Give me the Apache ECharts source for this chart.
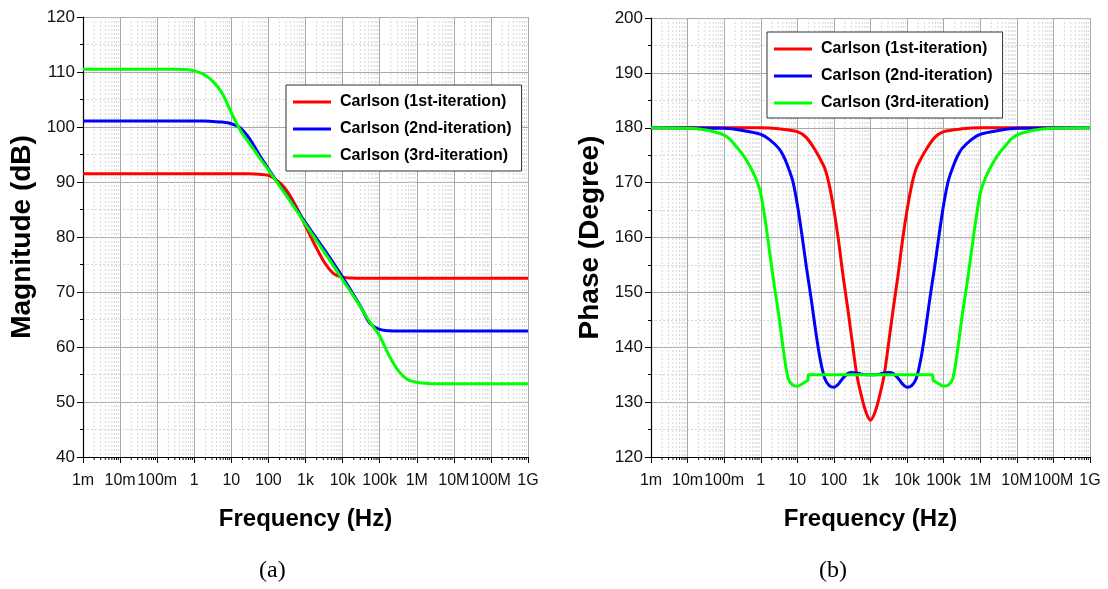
<!DOCTYPE html>
<html>
<head>
<meta charset="utf-8">
<script src="https://cdn.jsdelivr.net/npm/echarts@6/dist/echarts.min.js"></script>
<style>
  html, body { margin: 0; padding: 0; background: #fff; }
  #chart { width: 1108px; height: 589px; }
</style>
</head>
<body>
<div id="chart"></div>
<script>
// Decade tick labels of the frequency axis (1 mHz .. 1 GHz)
const freqTickLabels = ['1m', '10m', '100m', '1', '10', '100', '1k', '10k', '100k', '1M', '10M', '100M', '1G'];
const seriesNames = ['Carlson (1st-iteration)', 'Carlson (2nd-iteration)', 'Carlson (3rd-iteration)'];

// (a) Magnitude response in dB, sampled at log10(f / Hz)
const magLogF = [-3, -2, -1, -0.5, -0.25, 0, 0.25, 0.5, 0.75, 1, 1.25, 1.5, 1.75, 2, 2.25, 2.5, 2.75,
  3, 3.25, 3.5, 3.75, 4, 4.25, 4.5, 4.75, 5, 5.25, 5.5, 5.75, 6, 6.25, 6.5, 7, 8, 9];
const magIter1 = [91.5, 91.5, 91.5, 91.5, 91.5, 91.5, 91.5, 91.5, 91.5, 91.5, 91.5, 91.5, 91.4, 91.2, 90.2, 88.4, 85.5,
  82.0, 78.6, 75.5, 73.4, 72.7, 72.55, 72.5, 72.5, 72.5, 72.5, 72.5, 72.5, 72.5, 72.5, 72.5, 72.5, 72.5, 72.5];
const magIter2 = [101.1, 101.1, 101.1, 101.1, 101.1, 101.1, 101.1, 101.0, 100.9, 100.6, 99.8, 97.8, 95.0, 92.4, 89.9, 87.5, 85.1,
  82.6, 80.2, 77.8, 75.3, 72.7, 70.0, 67.2, 64.2, 63.2, 62.95, 62.9, 62.9, 62.9, 62.9, 62.9, 62.9, 62.9, 62.9];
const magIter3 = [110.5, 110.5, 110.5, 110.5, 110.45, 110.2, 109.6, 108.3, 106.2, 102.6, 99.3, 96.9, 94.5, 92.2, 89.8, 87.4, 84.9,
  82.3, 79.8, 77.3, 74.8, 72.2, 69.7, 67.1, 64.4, 62.0, 58.5, 55.7, 54.1, 53.6, 53.4, 53.3, 53.3, 53.3, 53.3];

// (b) Phase response in degrees, sampled at log10(f / Hz)
const phaseLogF1 = [-3, 0, 0.5, 1, 1.25, 1.5, 1.625, 1.75, 1.875, 2, 2.125, 2.25, 2.375, 2.5, 2.625, 2.75, 2.875, 3,
  3.125, 3.25, 3.375, 3.5, 3.625, 3.75, 3.875, 4, 4.125, 4.25, 4.375, 4.5, 4.75, 5, 5.5, 6, 9];
const phaseIter1 = [180, 180, 179.8, 179.3, 178.2, 175.8, 174.3, 172.6, 169.5, 165, 159.5, 153, 147.2, 141, 135, 131.2, 128.2, 126.7,
  128.2, 131.2, 135, 141, 147.2, 153, 159.5, 165, 169.5, 172.6, 174.3, 175.8, 178.2, 179.3, 179.8, 180, 180];
const phaseLogF2 = [-3, -1, -0.5, 0, 0.25, 0.5, 0.625, 0.75, 0.875, 1, 1.125, 1.25, 1.375, 1.5, 1.625, 1.75, 1.875, 2,
  2.125, 2.25, 2.375, 2.5, 2.625, 2.75, 3, 3.25, 3.375, 3.5, 3.625, 3.75, 3.875, 4, 4.125, 4.25, 4.375, 4.5, 4.625,
  4.75, 4.875, 5, 5.125, 5.25, 5.375, 5.5, 5.75, 6, 6.5, 7, 9];
const phaseIter2 = [180, 179.9, 179.5, 178.8, 177.8, 176.2, 174.8, 172.8, 170.3, 166, 160.5, 154.5, 149, 143, 137.8, 134.3, 133.0, 132.7,
  133.3, 134.4, 135.2, 135.4, 135.3, 135.1, 135.0, 135.1, 135.3, 135.4, 135.2, 134.4, 133.3, 132.7, 133.0, 134.3, 137.8, 143, 149,
  154.5, 160.5, 166, 170.3, 172.8, 174.8, 176.2, 177.8, 178.8, 179.5, 179.9, 180];
const phaseLogF3 = [-3, -1.75, -1.125, -0.875, -0.625, -0.5, -0.375, -0.25, -0.125, 0, 0.125, 0.25, 0.375, 0.5, 0.625, 0.75,
  0.875, 1, 1.125, 1.25, 1.29, 1.3, 4.7, 4.71, 4.75, 4.875, 5, 5.125, 5.25, 5.375, 5.5, 5.625, 5.75, 5.875, 6, 6.125,
  6.25, 6.375, 6.5, 6.625, 6.875, 7.125, 7.75, 9];
const phaseIter3 = [180, 179.8, 179.0, 178.1, 176.2, 175.2, 173.9, 172.4, 170.6, 168.0, 163.0, 157.0, 151, 145.5, 139.2, 134.3,
  133.1, 132.9, 133.3, 133.8, 134.0, 135, 135, 134.0, 133.8, 133.3, 132.9, 133.1, 134.3, 139.2, 145.5, 151, 157.0, 163.0, 168.0, 170.6,
  172.4, 173.9, 175.2, 176.2, 178.1, 179.0, 179.8, 180];

const colors = ['#ff0000', '#0000ff', '#00ff00'];
const sans = '"Liberation Sans", Arial, Helvetica, sans-serif';

const toPoints = (xs, vals) => xs.map((x, i) => [x, vals[i]]);

// Minor decade positions (2..9 x 10^n) for the log-style grid
const minorExp = [];
for (let d = -3; d < 9; d++) {
  for (let k = 2; k <= 9; k++) minorExp.push(d + Math.log10(k));
}

function minorGridSeries(idx, yMin, yMax) {
  return {
    type: 'custom',
    xAxisIndex: idx,
    yAxisIndex: idx,
    silent: true,
    clip: false,
    z: 1,
    data: minorExp.map(v => [v]),
    renderItem: function (params, api) {
      const x = api.value(0);
      const top = api.coord([x, yMax]);
      const bot = api.coord([x, yMin]);
      return {
        type: 'group',
        children: [
          { type: 'line', shape: { x1: top[0], y1: top[1], x2: bot[0], y2: bot[1] },
            style: { stroke: '#d6d6d6', lineWidth: 1, lineDash: [2, 2] } },
          { type: 'line', shape: { x1: bot[0], y1: bot[1], x2: bot[0], y2: bot[1] + 3 },
            style: { stroke: '#000', lineWidth: 1 } }
        ]
      };
    }
  };
}

function xAxisFor(idx) {
  return {
    type: 'value', gridIndex: idx, min: -3, max: 9, interval: 1,
    name: 'Frequency (Hz)', nameLocation: 'middle', nameGap: 50,
    nameTextStyle: { fontFamily: sans, fontWeight: 'bold', fontSize: 24, color: '#000' },
    axisLine: { show: true, onZero: false, lineStyle: { color: '#000', width: 1.2 } },
    axisTick: { show: true, inside: false, length: 6, lineStyle: { color: '#000' } },
    axisLabel: { fontFamily: sans, fontSize: 16, color: '#111', margin: 16,
      formatter: v => freqTickLabels[Math.round(v) + 3] },
    splitLine: { show: true, lineStyle: { color: '#a9a9a9', width: 1 } }
  };
}

function yAxisFor(idx, name, min, max) {
  return {
    type: 'value', gridIndex: idx, min: min, max: max, interval: 10,
    name: name, nameLocation: 'middle', nameGap: 47,
    nameTextStyle: { fontFamily: sans, fontWeight: 'bold', fontSize: 28, color: '#000' },
    axisLine: { show: true, onZero: false, lineStyle: { color: '#000', width: 1.2 } },
    axisTick: { show: true, inside: false, length: 6, lineStyle: { color: '#000' } },
    minorTick: { show: true, splitNumber: 2, length: 3, lineStyle: { color: '#000' } },
    axisLabel: { fontFamily: sans, fontSize: 17, color: '#111', margin: 8 },
    splitLine: { show: true, lineStyle: { color: '#a9a9a9', width: 1 } },
    minorSplitLine: { show: true, lineStyle: { color: '#d6d6d6', width: 1, type: [2, 2] } }
  };
}

function curve(idx, name, color, pts) {
  return {
    type: 'line', name: name, xAxisIndex: idx, yAxisIndex: idx,
    data: pts, showSymbol: false, smooth: 0.3, z: 3,
    lineStyle: { color: color, width: 3 }, itemStyle: { color: color }
  };
}

function legendFor(left, top) {
  return {
    left: left, top: top, orient: 'vertical',
    data: seriesNames,
    icon: 'rect', itemWidth: 38, itemHeight: 3, itemGap: 9,
    backgroundColor: '#fff', borderColor: '#333', borderWidth: 1,
    padding: [8, 10, 6, 7],
    textStyle: { fontFamily: sans, fontWeight: 'bold', fontSize: 16, color: '#000',
      lineHeight: 18, padding: [0, 0, 0, 4] }
  };
}

const chart = echarts.init(document.getElementById('chart'), null, { renderer: 'canvas' });
chart.setOption({
  animation: false,
  backgroundColor: '#fff',
  grid: [
    { left: 83, top: 17, width: 445, height: 440 },
    { left: 651, top: 18, width: 439, height: 439 }
  ],
  xAxis: [xAxisFor(0), xAxisFor(1)],
  yAxis: [yAxisFor(0, 'Magnitude (dB)', 40, 120), yAxisFor(1, 'Phase (Degree)', 120, 200)],
  legend: [legendFor(286, 85), legendFor(767, 32)],
  graphic: [
    { type: 'text', left: 259, top: 559, style: { text: '(a)', font: '24px "Liberation Serif", "Times New Roman", serif', fill: '#000' } },
    { type: 'text', left: 819, top: 559, style: { text: '(b)', font: '24px "Liberation Serif", "Times New Roman", serif', fill: '#000' } }
  ],
  series: [
    minorGridSeries(0, 40, 120),
    minorGridSeries(1, 120, 200),
    curve(0, seriesNames[0], colors[0], toPoints(magLogF, magIter1)),
    curve(0, seriesNames[1], colors[1], toPoints(magLogF, magIter2)),
    curve(0, seriesNames[2], colors[2], toPoints(magLogF, magIter3)),
    curve(1, seriesNames[0], colors[0], toPoints(phaseLogF1, phaseIter1)),
    curve(1, seriesNames[1], colors[1], toPoints(phaseLogF2, phaseIter2)),
    curve(1, seriesNames[2], colors[2], toPoints(phaseLogF3, phaseIter3))
  ]
});
</script>
</body>
</html>
